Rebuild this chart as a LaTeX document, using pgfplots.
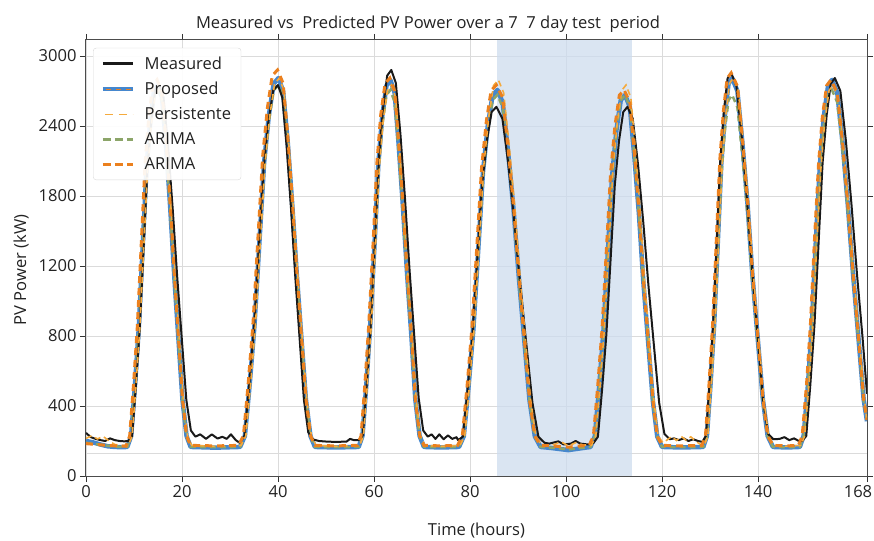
\documentclass[border=0pt]{standalone}
\usepackage{fontspec}
\setmainfont{Open Sans}
\usepackage{pgfplots}
\pgfplotsset{compat=1.18}
\definecolor{cblue}{RGB}{70,135,205}
\definecolor{corange}{RGB}{235,128,30}
\definecolor{cpers}{RGB}{245,170,60}
\definecolor{cgreen}{RGB}{140,165,105}
\definecolor{cband}{RGB}{205,220,238}
\definecolor{ctext}{RGB}{34,34,34}
\newcommand{\fs}{\fontsize{16.6}{19.5}\selectfont}
\begin{document}
\begin{tikzpicture}
\useasboundingbox (-86bp,-65bp) rectangle (788bp,476bp);
\begin{axis}[
  at={(0,0)}, anchor=south west,
  width=781bp, height=436bp, scale only axis,
  xmin=0, xmax=162.7, ymin=0, ymax=3137,
  y coord trafo/.code={\pgfmathparse{#1-max(#1-1200,0)/3}},
  y coord inv trafo/.code={\pgfmathparse{#1+max(#1-1200,0)/2}},
  xtick={0,20,40,60,80,100,120,140,162.7},
  xticklabels={0,20,40,60,80,100,120,140,\makebox[0pt]{\hspace*{-18bp}168}},
  ytick={0,400,800,1200,1800,2400,3000},
  yticklabels={0,400,800,1200,1800,2400,3000},
  scaled y ticks=false,
  extra y ticks={131}, extra y tick labels={},
  extra y tick style={grid=major, major tick length=0pt},
  grid=major, grid style={draw=black!14, line width=0.9bp},
  tick align=outside, major tick length=6bp,
  tick style={draw=black!80, line width=0.8bp},
  axis line style={draw=black!70, line width=1bp},
  /pgf/number format/assume math mode=true,
  tick label style={font=\fs, text=ctext},
  title={Measured vs~ Predicted PV Power over a 7~ 7 day test~ period},
  title style={font=\fs, text=ctext, at={(axis description cs:0.438,1)}, anchor=base, yshift=6bp},
  xlabel={Time (hours)},
  xlabel style={font=\fs, text=ctext, at={(axis description cs:0.5,0)}, anchor=base, yshift=-59bp},
  ylabel={PV Power (kW)},
  ylabel style={font=\fs, text=ctext, at={(axis description cs:-0.083,0.473)}, anchor=center},
  legend style={at={(0.009,0.982)}, anchor=north west, draw=black!15, rounded corners=3bp,
    fill=white, fill opacity=0.92, text opacity=1, font=\fs, text=ctext,
    row sep=7.6bp, inner xsep=8bp, inner ysep=6.5bp,
    /tikz/every odd column/.append style={column sep=8bp}},
  legend cell align=left,
  legend image code/.code={\draw[#1] (0bp,0bp) -- (30bp,0bp);},
]
% highlighted test window
\addplot[draw=none, fill=cband, fill opacity=0.75, forget plot] coordinates {(85.7,3137) (113.8,3137)} \closedcycle;

% Proposed
\addplot[cblue, line width=4.5bp, line join=round, forget plot] coordinates {
(0,200)(1.5,192)(3,180)(4.5,170)(6,166)(7.5,165)
(8.6,166)(9.4,228)(10.2,518)(11.0,848)(11.8,1355)(12.6,2037)(13.4,2441)(14.2,2705)(15.0,2751)(15.85,2643)(16.7,2223)(17.55,1697)(18.4,1138)(19.25,786)(20.1,435)(20.95,228)(21.8,166)
(27,162)
(32.1,166)(33.1,229)(34.1,524)(35.1,862)(36.1,1388)(37.1,2084)(38.1,2495)(39.1,2763)(40.1,2811)(41.05,2700)(42.0,2274)(42.95,1736)(43.9,1157)(44.85,798)(45.8,440)(46.75,229)(47.7,166)
(52,163)
(56.8,166)(57.6,229)(58.4,522)(59.2,858)(60.1,1379)(60.9,2072)(61.7,2480)(62.6,2747)(63.4,2795)(64.3,2685)(65.1,2261)(66.0,1725)(66.9,1152)(67.8,795)(68.6,439)(69.5,229)(70.4,166)
(74,163)
(77.7,166)(78.7,227)(79.7,513)(80.7,839)(81.7,1332)(82.7,2006)(83.7,2403)(84.7,2663)(85.7,2709)(86.8,2603)(87.9,2189)(89.1,1668)(90.2,1125)(91.3,778)(92.4,431)(93.5,227)(94.7,166)
(97,160)(100.5,148)(103,158)
(105.1,166)(106.0,226)(106.9,508)(107.8,830)(108.7,1308)(109.6,1971)(110.5,2364)(111.4,2621)(112.3,2666)(113.3,2561)(114.2,2153)(115.2,1640)(116.1,1111)(117.1,769)(118.1,427)(119.0,226)(120.0,166)
(124,163)
(128.6,166)(129.35,229)(130.1,524)(130.85,862)(131.6,1388)(132.35,2084)(133.1,2495)(133.85,2763)(134.6,2811)(135.7,2700)(136.7,2274)(137.8,1736)(138.8,1157)(139.9,798)(141.0,440)(142.0,229)(143.1,166)
(146,163)
(148.7,166)(149.5,229)(150.4,522)(151.2,858)(152.0,1379)(152.9,2072)(153.7,2480)(154.6,2747)(155.4,2795)(156.5,2685)(157.6,2261)(158.7,1725)(159.8,1152)(160.9,795)(162.0,439)(162.7,313)
};

% ARIMA (green)
\addplot[cgreen, line width=2.5bp, dash pattern=on 6bp off 4bp, forget plot] coordinates {
(0,190)(3,178)(6,168)(8,166)
(8.6,166)(9.4,227)(10.2,513)(11.0,839)(11.8,1332)(12.6,2006)(13.4,2403)(14.2,2663)(15.0,2709)(15.85,2603)(16.7,2189)(17.55,1668)(18.4,1125)(19.25,778)(20.1,431)(20.95,227)(21.8,166)
(27,165)
(32.1,166)(33.1,228)(34.1,518)(35.1,848)(36.1,1355)(37.1,2037)(38.1,2441)(39.1,2705)(40.1,2751)(41.05,2643)(42.0,2223)(42.95,1697)(43.9,1138)(44.85,786)(45.8,435)(46.75,228)(47.7,166)
(52,165)
(56.8,166)(57.6,227)(58.4,513)(59.2,839)(60.1,1332)(60.9,2006)(61.7,2403)(62.6,2663)(63.4,2709)(64.3,2603)(65.1,2189)(66.0,1668)(66.9,1125)(67.8,778)(68.6,431)(69.5,227)(70.4,166)
(74,165)
(77.7,166)(78.7,226)(79.7,508)(80.7,830)(81.7,1308)(82.7,1971)(83.7,2364)(84.7,2621)(85.7,2666)(86.8,2561)(87.9,2153)(89.1,1640)(90.2,1111)(91.3,769)(92.4,427)(93.5,226)(94.7,166)
(97,162)(100.5,152)(103,160)
(105.1,166)(106.0,226)(106.9,508)(107.8,830)(108.7,1308)(109.6,1971)(110.5,2364)(111.4,2621)(112.3,2666)(113.3,2561)(114.2,2153)(115.2,1640)(116.1,1111)(117.1,769)(118.1,427)(119.0,226)(120.0,166)
(124,165)
(128.6,166)(129.35,226)(130.1,508)(130.85,830)(131.6,1308)(132.35,1971)(133.1,2364)(133.85,2621)(134.6,2666)(135.7,2561)(136.7,2153)(137.8,1640)(138.8,1111)(139.9,769)(141.0,427)(142.0,226)(143.1,166)
(146,165)
(148.7,166)(149.5,227)(150.4,513)(151.2,839)(152.0,1332)(152.9,2006)(153.7,2403)(154.6,2663)(155.4,2709)(156.5,2603)(157.6,2189)(158.7,1668)(159.8,1125)(160.9,778)(162.0,431)(162.7,320)
};

% Measured
\addplot[black!90, line width=2bp, line join=round, forget plot] coordinates {
(0,246)(1,222)(2,212)(3,205)(4,200)(5,215)(6,205)(7,200)(8,198)
(8.8,200)(9.6,228)(10.4,518)(11.2,848)(12.0,1355)(12.8,2037)(13.6,2441)(14.4,2705)(15.2,2751)(16.15,2643)(17.1,2223)(18.05,1697)(19.0,1138)(19.95,786)(20.9,435)(21.85,260)(22.8,225)
(23.8,238)(25.0,212)(26.2,238)(27.4,214)(28.4,224)(29.3,212)(30.2,238)(31.2,205)
(32.0,190)(33.0,228)(34.0,518)(35.0,848)(36.0,1355)(37.0,2037)(38.0,2441)(39.0,2705)(40.0,2751)(40.9,2643)(41.8,2223)(42.7,1697)(43.6,1138)(44.5,786)(45.4,435)(46.3,250)(47.2,210)
(48.5,200)(50.5,196)(52.5,195)(54.3,197)(55.0,212)(55.8,205)
(56.8,205)(57.65,231)(58.5,532)(59.35,877)(60.2,1427)(61.05,2138)(61.9,2558)(62.75,2832)(63.6,2880)(64.55,2768)(65.5,2331)(66.45,1782)(67.4,1178)(68.35,812)(69.3,446)(70.25,260)(71.2,225)
(72.0,238)(72.8,212)(73.6,238)(74.5,210)(75.4,232)(76.3,212)(77.2,222)
(77.5,205)(78.5,224)(79.5,496)(80.5,807)(81.5,1253)(82.5,1893)(83.5,2273)(84.5,2520)(85.5,2564)(86.75,2462)(88.0,2069)(89.25,1572)(90.5,1079)(91.75,749)(93.0,419)(94.25,224)(95.5,190)
(96.5,185)(98.4,198)(99.5,180)(101,185)(102,200)(103,185)(104.6,180)
(105.76,190)(106.64,224)(107.52,496)(108.4,807)(109.28,1253)(110.16,1893)(111.04,2273)(111.92,2520)(112.8,2564)(113.9,2462)(115.0,2069)(116.1,1572)(117.2,1079)(118.3,749)(119.4,419)(120.5,240)(121.6,210)
(122.5,215)(123.5,205)(124.5,215)(125.5,200)(126.5,210)(127.5,200)
(128.4,195)(129.15,230)(129.9,529)(130.65,871)(131.4,1412)(132.15,2117)(132.9,2534)(133.65,2807)(134.4,2855)(135.5,2742)(136.6,2310)(137.7,1764)(138.8,1170)(139.9,807)(141.0,444)(142.1,240)(143.2,210)
(144.5,212)(145.5,222)(146.5,205)(147.5,215)(148.5,200)
(149.2,200)(150.05,229)(150.9,524)(151.75,862)(152.6,1388)(153.45,2084)(154.3,2495)(155.15,2763)(156.0,2811)(157.15,2700)(158.3,2274)(159.45,1736)(160.6,1157)(161.75,798)(162.7,470)
};

% Persistence
\addplot[cpers, line width=1.6bp, dash pattern=on 6bp off 4bp, forget plot] coordinates {
(0,215)(1.2,230)(2.4,212)(3.6,226)(4.8,200)(6,180)(7.5,175)
(8.8,175)(9.6,227)(10.4,513)(11.2,839)(12.0,1332)(12.8,2006)(13.6,2403)(14.4,2663)(15.2,2709)(16.05,2603)(16.9,2189)(17.75,1668)(18.6,1125)(19.45,778)(20.3,431)(21.15,227)(22.0,175)
(27,170)
(32.3,175)(33.3,229)(34.3,524)(35.3,862)(36.3,1388)(37.3,2084)(38.3,2495)(39.3,2763)(40.3,2811)(41.25,2700)(42.2,2274)(43.15,1736)(44.1,1157)(45.05,798)(46.0,440)(46.95,229)(47.9,175)
(52,170)
(57.0,175)(57.8,228)(58.6,518)(59.4,848)(60.3,1355)(61.1,2037)(61.9,2441)(62.8,2705)(63.6,2751)(64.5,2643)(65.3,2223)(66.2,1697)(67.1,1138)(68.0,786)(68.8,435)(69.7,228)(70.6,175)
(74,170)
(77.9,175)(78.9,229)(79.9,522)(80.9,858)(81.9,1379)(82.9,2072)(83.9,2480)(84.9,2747)(85.9,2795)(87.0,2685)(88.1,2261)(89.3,1725)(90.4,1152)(91.5,795)(92.6,439)(93.7,229)(94.9,175)
(97,175)(99,195)(100.5,172)(102,190)(103.5,178)
(105.3,175)(106.2,228)(107.1,518)(108.0,848)(108.9,1355)(109.8,2037)(110.7,2441)(111.6,2705)(112.5,2751)(113.5,2643)(114.4,2223)(115.4,1697)(116.3,1138)(117.3,786)(118.3,435)(119.2,228)(120.2,190)
(121,205)(122,226)(123,203)(124,226)(125,205)(126,224)(127,200)(128,180)
(128.8,175)(129.55,229)(130.3,524)(131.05,862)(131.8,1388)(132.55,2084)(133.3,2495)(134.05,2763)(134.8,2811)(135.9,2700)(136.9,2274)(138.0,1736)(139.0,1157)(140.1,798)(141.2,440)(142.2,229)(143.3,175)
(146,170)
(148.9,175)(149.7,228)(150.6,518)(151.4,848)(152.2,1355)(153.1,2037)(153.9,2441)(154.8,2705)(155.6,2751)(156.7,2643)(157.8,2223)(158.9,1697)(160.0,1138)(161.1,786)(162.2,435)(162.7,300)
};

% ARIMA (orange)
\addplot[corange, line width=3bp, dash pattern=on 7bp off 5bp, forget plot] coordinates {
(0,185)(3,178)(6,172)
(8.3,170)(9.1,229)(9.9,522)(10.7,858)(11.5,1379)(12.3,2072)(13.1,2480)(13.9,2747)(14.8,2795)(15.85,2685)(16.7,2261)(17.55,1725)(18.4,1152)(19.25,795)(20.1,439)(20.95,229)(21.8,175)
(27,172)
(31.8,175)(32.8,231)(33.8,532)(34.8,877)(35.8,1427)(36.8,2138)(37.8,2558)(38.8,2832)(39.9,2880)(41.05,2768)(42.0,2331)(42.95,1782)(43.9,1178)(44.85,812)(45.8,446)(46.75,231)(47.7,175)
(52,172)
(56.5,175)(57.3,229)(58.1,524)(58.9,862)(59.8,1388)(60.6,2084)(61.4,2495)(62.3,2763)(63.3,2811)(64.3,2700)(65.1,2274)(66.0,1736)(66.9,1157)(67.8,798)(68.6,440)(69.5,229)(70.4,175)
(74,172)
(77.4,175)(78.4,228)(79.4,518)(80.4,848)(81.4,1355)(82.4,2037)(83.4,2441)(84.4,2705)(85.5,2751)(86.8,2643)(87.9,2223)(89.1,1697)(90.2,1138)(91.3,786)(92.4,435)(93.5,228)(94.7,175)
(97,172)(100.5,165)(103,172)
(104.8,175)(105.7,227)(106.6,513)(107.5,839)(108.4,1332)(109.3,2006)(110.2,2403)(111.1,2663)(112.1,2709)(113.3,2603)(114.2,2189)(115.2,1668)(116.1,1125)(117.1,778)(118.1,431)(119.0,227)(120.0,175)
(124,172)
(128.3,175)(129.05,230)(129.8,529)(130.55,871)(131.3,1412)(132.05,2117)(132.8,2534)(133.55,2807)(134.4,2855)(135.7,2742)(136.7,2310)(137.8,1764)(138.8,1170)(139.9,807)(141.0,444)(142.0,230)(143.1,175)
(146,172)
(148.4,175)(149.2,229)(150.1,522)(150.9,858)(151.7,1379)(152.6,2072)(153.4,2480)(154.3,2747)(155.2,2795)(156.5,2685)(157.6,2261)(158.7,1725)(159.8,1152)(160.9,795)(162.0,439)(162.7,320)
};

\addlegendimage{black!90, line width=2.5bp}
\addlegendentry{Measured}
\addlegendimage{legend image code/.code={
  \draw[cblue, line width=3.5bp] (0bp,0bp) -- (30bp,0bp);
  \draw[corange, line width=1.3bp, dash pattern=on 5bp off 5bp, dash phase=-3bp] (0bp,0bp) -- (30bp,0bp);}}
\addlegendentry{Proposed}
\addlegendimage{cpers, line width=1.6bp, dash pattern=on 8bp off 6bp, dash phase=-2bp}
\addlegendentry{Persistente}
\addlegendimage{cgreen, line width=2.5bp, dash pattern=on 8bp off 4bp}
\addlegendentry{ARIMA}
\addlegendimage{corange, line width=2.5bp, dash pattern=on 8bp off 4bp}
\addlegendentry{ARIMA}
\end{axis}
\end{tikzpicture}
\end{document}
